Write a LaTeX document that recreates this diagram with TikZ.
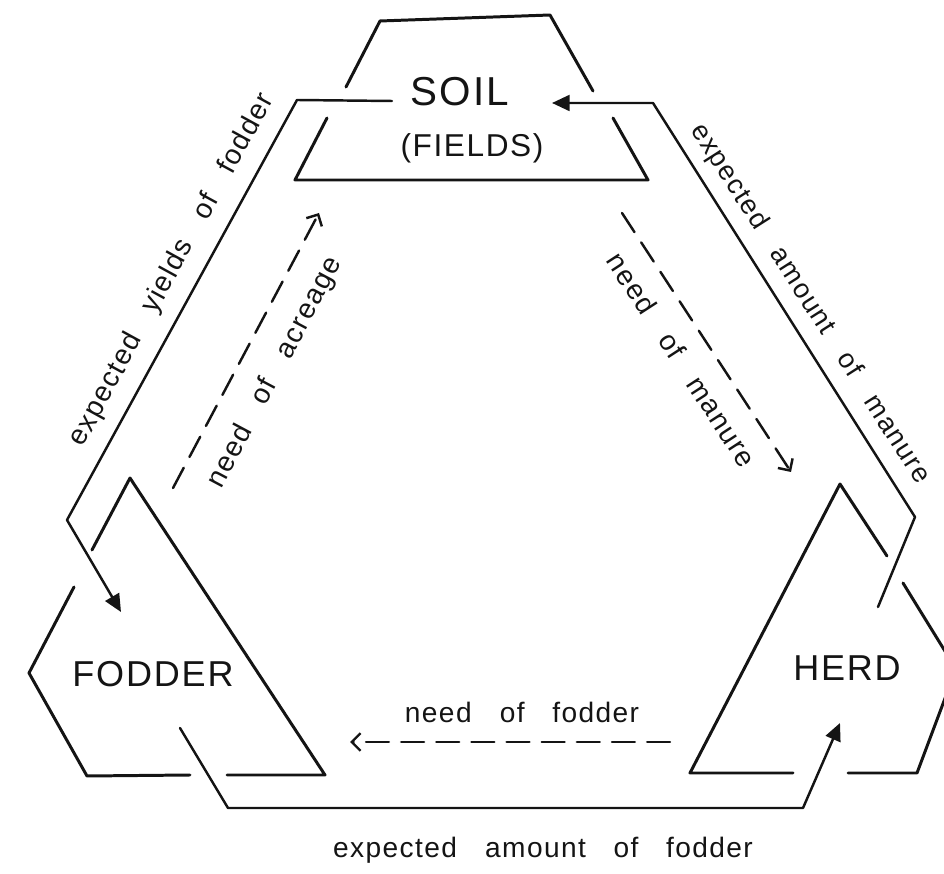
\documentclass[tikz,border=0pt]{standalone}
\usepackage{fontspec}
\setmainfont{Liberation Sans}
\newfontfamily\hand[LetterSpace=5, WordSpace=3]{Liberation Sans}
\usetikzlibrary{arrows.meta}
\definecolor{ink}{HTML}{141414}

\begin{document}
\begin{tikzpicture}[x=0.02cm, y=-0.02cm, line cap=round, line join=round,
    outline/.style={ink, line width=1.7pt},
    flow/.style={ink, line width=1.4pt, -{Triangle[length=10pt, width=9pt]}},
    need/.style={ink, line width=1.4pt, dash pattern=on 13pt off 7pt,
                 -{Straight Barb[length=5pt, width=10pt]}},
    block/.style={text=ink, inner sep=0pt, font=\hand\fontsize{20.5}{24}\selectfont},
    tag/.style={text=ink, inner sep=0pt, font=\hand\fontsize{16}{19}\selectfont}]
  \useasboundingbox (0,0) rectangle (944,874);
  \clip (0,0) rectangle (944,874);

  % Soil (fields)
  \node[block, font=\hand\fontsize{23}{27}\selectfont] (soil) at (460,92) {SOIL};
  \node[block, font=\hand\fontsize{18}{21}\selectfont] (fields) at (472,148) {(FIELDS)};
  \draw[outline] (346,87) -- (380,21) -- (550,15) -- (593,91);
  \draw[outline] (327,118) -- (295,180) -- (648,180) -- (613,118);

  % Fodder
  \node[block] (fodder) at (153,674) {FODDER};
  \draw[outline] (92,550) -- (130,478) -- (325,775) -- (227,775);
  \draw[outline] (190,775) -- (87,776) -- (29,673) -- (74,587);

  % Herd
  \node[block] (herd) at (847,668) {HERD};
  \draw[outline] (887,556) -- (840,484) -- (690,773) -- (793,773);
  \draw[outline] (848,773) -- (917,773) -- (956,669) -- (903,583);

  % Expected flows
  \coordinate (yield-in)   at (392,101);
  \coordinate (yield-out)  at (121,612);
  \coordinate (manure-in)  at (878,607);
  \coordinate (manure-out) at (552,103);
  \coordinate (feed-in)    at (180,728);
  \coordinate (feed-out)   at (840,723);
  \draw[flow] (yield-in) -- (297,100) -- (67,520) -- (yield-out);
  \draw[flow] (manure-in) -- (915,517) -- (653,103) -- (manure-out);
  \draw[flow] (feed-in) -- (228,808) -- (803,808) -- (feed-out);

  % Needs
  \coordinate (acre-from)   at (173,488);
  \coordinate (acre-to)     at (319,213);
  \coordinate (dung-from)   at (622,213);
  \coordinate (dung-to)     at (791,472);
  \coordinate (fodder-from) at (670,742);
  \coordinate (fodder-to)   at (350,742);
  \draw[need] (acre-from) -- (acre-to);
  \draw[need] (dung-from) -- (dung-to);
  \draw[need] (fodder-from) -- (fodder-to);

  % Labels
  \node[tag, rotate=61.3] (yields) at (172,270) {expected\quad yields of fodder};
  \node[tag, rotate=-57.5, font=\hand\fontsize{15.5}{18}\selectfont] (amount) at (810,304) {expected amount of manure};
  \node[tag, rotate=62] (acreage) at (275,373) {need of acreage};
  \node[tag, rotate=-57] (manure) at (682,360) {need of manure};
  \node[tag] (needfodder) at (522,712) {need\quad of fodder};
  \node[tag] (feed) at (543,850) {expected\quad amount of fodder};
\end{tikzpicture}
\end{document}
